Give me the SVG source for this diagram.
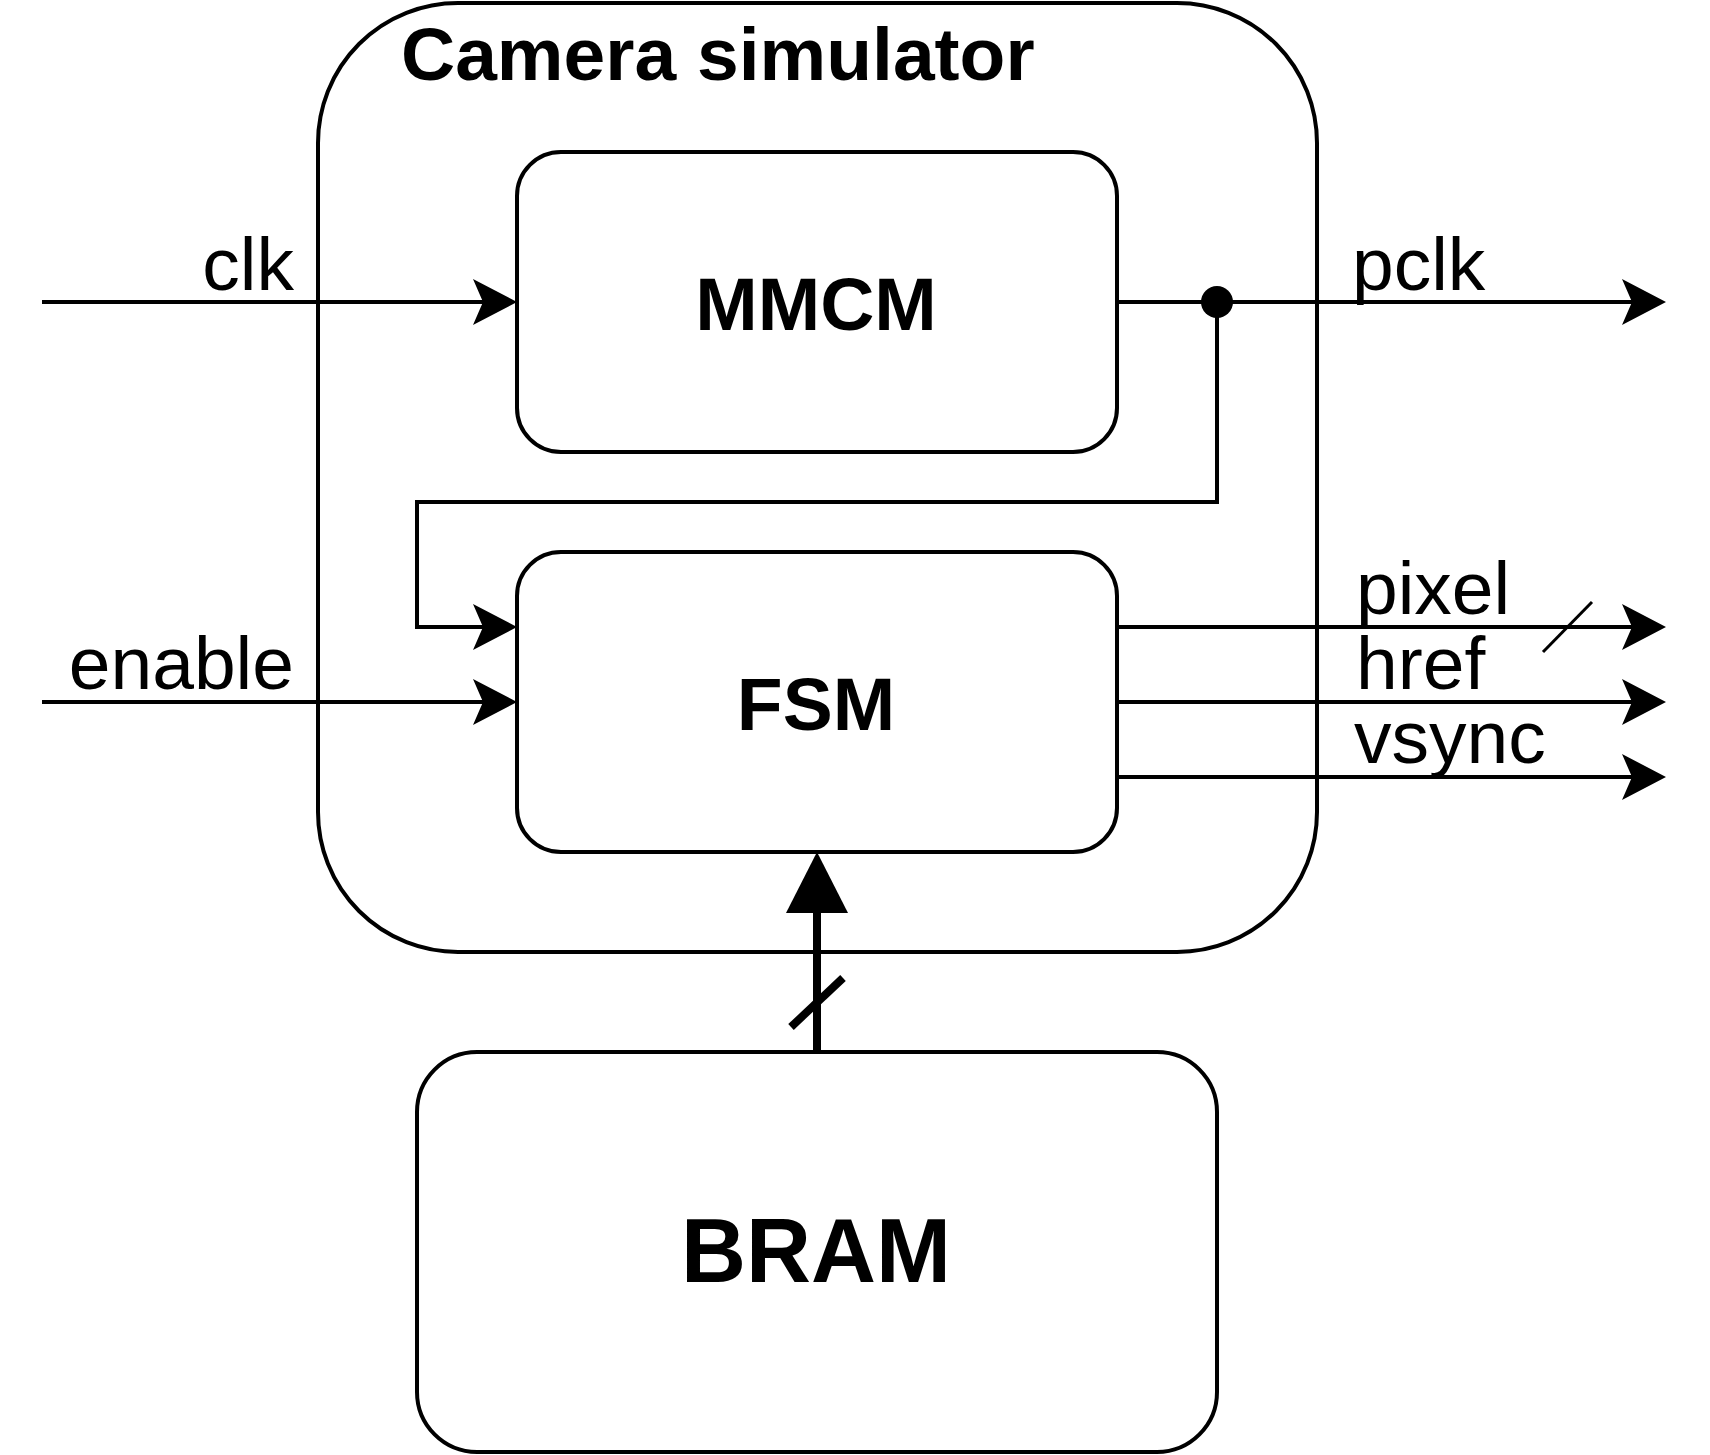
<svg xmlns="http://www.w3.org/2000/svg" width="1710" height="1455" viewBox="0 0 1710 1455">
<style>
.box{fill:#fff;stroke:#000;stroke-width:4}
.cont{fill:none;stroke:#000;stroke-width:4}
.ln{fill:none;stroke:#000;stroke-width:4}
.bold{font-family:"Liberation Sans",Arial,sans-serif;font-weight:bold;fill:#000}
.lbl{font-family:"Liberation Sans",Arial,sans-serif;font-size:75px;fill:#000}
</style>
<defs>
<marker id="arr" viewBox="0 0 44 46" refX="10" refY="23" markerWidth="44" markerHeight="46" markerUnits="userSpaceOnUse" orient="auto">
<path d="M0,0 L44,23 L0,46 L10,23 Z" fill="#000"/>
</marker>
<marker id="blk" viewBox="0 0 61 62" refX="0" refY="31" markerWidth="61" markerHeight="62" markerUnits="userSpaceOnUse" orient="auto">
<path d="M0,0 L61,31 L0,62 Z" fill="#000"/>
</marker>
</defs>
<rect width="1710" height="1455" fill="#fff"/>
<g id="camera-simulator">
<rect class="cont" x="318" y="3" width="999" height="949" rx="140" ry="140"/>
<text class="bold" x="401" y="80" font-size="75">Camera simulator</text>
</g>
<g id="mmcm">
<rect class="box" x="517" y="152" width="600" height="300" rx="44" ry="44"/>
<text class="bold" x="816" y="330" font-size="75" text-anchor="middle">MMCM</text>
</g>
<g id="fsm">
<rect class="box" x="517" y="552" width="600" height="300" rx="44" ry="44"/>
<text class="bold" x="816" y="730" font-size="75" text-anchor="middle">FSM</text>
</g>
<g id="bram">
<rect class="box" x="417" y="1052" width="800" height="400" rx="60" ry="60"/>
<text class="bold" x="816" y="1282" font-size="90" text-anchor="middle">BRAM</text>
</g>
<g id="connectors">
<path class="ln" d="M42,302 H483" marker-end="url(#arr)"/>
<path class="ln" d="M1117,302 H1632" marker-end="url(#arr)"/>
<circle cx="1217" cy="302" r="16" fill="#000"/>
<path class="ln" d="M1217,302 V502 H417 V627 H483" marker-end="url(#arr)"/>
<path class="ln" d="M42,702 H483" marker-end="url(#arr)"/>
<path class="ln" d="M1117,627 H1632" marker-end="url(#arr)"/>
<path class="ln" d="M1117,702 H1632" marker-end="url(#arr)"/>
<path class="ln" d="M1117,777 H1632" marker-end="url(#arr)"/>
<line x1="1543" y1="652" x2="1592" y2="602" stroke="#000" stroke-width="3"/>
<path fill="none" stroke="#000" stroke-width="8" d="M817,1052 V913" marker-end="url(#blk)"/>
<line x1="791" y1="1027" x2="843" y2="978" stroke="#000" stroke-width="8"/>
<text class="lbl" x="294" y="290" text-anchor="end">clk</text>
<text class="lbl" x="294" y="689" text-anchor="end">enable</text>
<text class="lbl" x="1352" y="290">pclk</text>
<text class="lbl" x="1356" y="614">pixel</text>
<text class="lbl" x="1356" y="689">href</text>
<text class="lbl" x="1354" y="763">vsync</text>
</g>
</svg>
